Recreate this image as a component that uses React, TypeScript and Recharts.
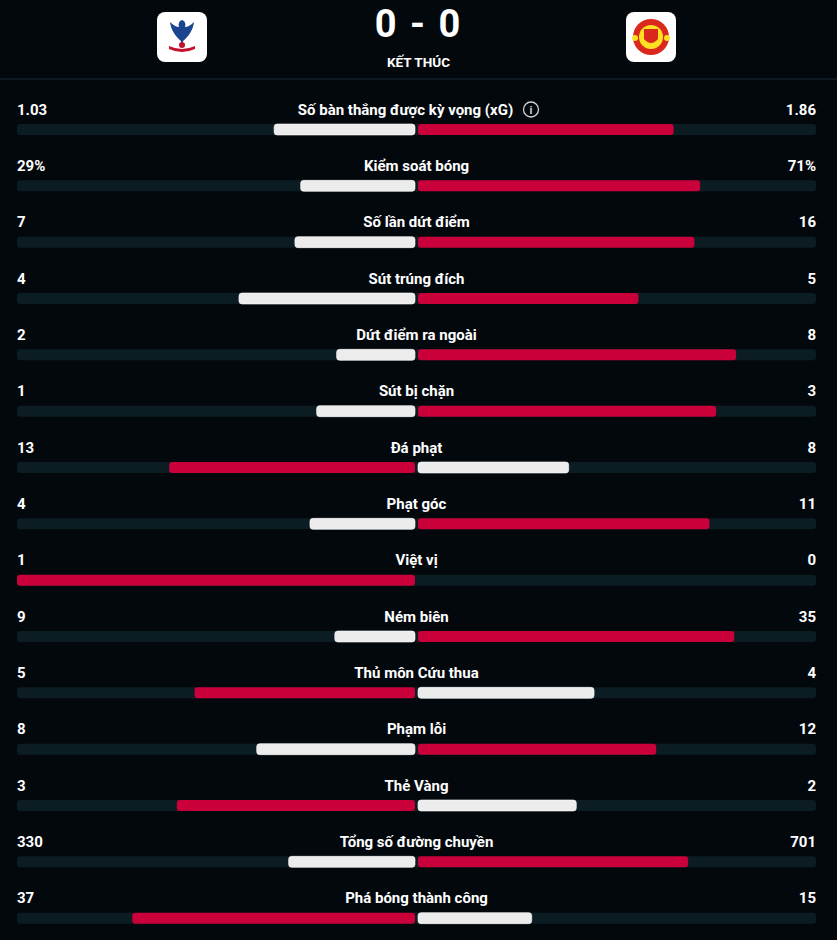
import React from 'react';
import { BarChart, Bar, XAxis, YAxis, Cell, LabelList } from 'recharts';

const labels = [
  'Số bàn thắng được kỳ vọng (xG)',
  'Kiểm soát bóng',
  'Số lần dứt điểm',
  'Sút trúng đích',
  'Dứt điểm ra ngoài',
  'Sút bị chặn',
  'Đá phạt',
  'Phạt góc',
  'Việt vị',
  'Ném biên',
  'Thủ môn Cứu thua',
  'Phạm lỗi',
  'Thẻ Vàng',
  'Tổng số đường chuyền',
  'Phá bóng thành công',
];
const homeValues = [1.03, 29, 7, 4, 2, 1, 13, 4, 1, 9, 5, 8, 3, 330, 37];
const awayValues = [1.86, 71, 16, 5, 8, 3, 8, 11, 0, 35, 4, 12, 2, 701, 15];
const suffixes = ['', '%', '', '', '', '', '', '', '', '', '', '', '', '', ''];

const BG = '#03080d';
const TRACK = '#0c1c23';
const RED = '#c9003a';
const WHITE = '#ececec';
const FONT = 'Roboto, "Noto Sans", sans-serif';

const LEFT = 17;
const RIGHT = 816;
const CENTER = (LEFT + RIGHT) / 2;

const data = labels.map((label, i) => {
  const total = homeValues[i] + awayValues[i];
  return {
    label,
    left: -homeValues[i] / total,
    right: awayValues[i] / total,
    homeWins: homeValues[i] > awayValues[i],
  };
});

const fmt = (v: number, i: number) => `${v}${suffixes[i]}`;

// texts above each bar: home value, stat name, away value
const RowText = (props: any) => {
  const { y, height, index } = props;
  const i = index;
  const ty = y + height / 2 - 15;
  const style = { fill: '#ffffff', fontSize: 15, fontWeight: 700, fontFamily: FONT };
  const isXg = i === 0;
  return (
    <g>
      <text x={LEFT} y={ty} textAnchor="start" style={style}>
        {fmt(homeValues[i], i)}
      </text>
      <text x={isXg ? CENTER - 11 : CENTER} y={ty} textAnchor="middle" style={style}>
        {labels[i]}
      </text>
      {isXg && (
        <g>
          <circle cx={531} cy={ty - 5} r={7.5} fill="none" stroke="#cfd3d6" strokeWidth={1.3} />
          <text x={531} y={ty - 1} textAnchor="middle" style={{ fill: '#cfd3d6', fontSize: 11, fontWeight: 700, fontFamily: FONT }}>
            i
          </text>
        </g>
      )}
      <text x={RIGHT} y={ty} textAnchor="end" style={style}>
        {fmt(awayValues[i], i)}
      </text>
    </g>
  );
};

const HalfBar = (props: any) => {
  const { x, y, width, height, fill, side } = props;
  if (!width) return null;
  let x0 = Math.min(x, x + width);
  let w = Math.abs(width);
  if (side === 'left') {
    w -= 1.5;
  } else {
    x0 += 1.5;
    w -= 1.5;
  }
  if (w <= 0) return null;
  return (
    <rect
      x={x0}
      y={y}
      width={w}
      height={height}
      rx={3}
      ry={3}
      fill={fill}
      stroke={fill === WHITE ? '#ffffff' : 'none'}
      strokeWidth={0.6}
    />
  );
};

const CrystalPalace = () => (
  <svg width={50} height={50} viewBox="0 0 50 50">
    <rect x={0} y={0} width={50} height={50} rx={8} fill="#ffffff" />
    <path d="M25 30 C18 24 14 18 13 10 C17 14 20 15 22 15 C21 12 22 9 25 8 C28 9 29 12 28 15 C30 15 33 14 37 10 C36 18 32 24 25 30 Z" fill="#1b458f" />
    <rect x={24} y={26} width={2} height={8} fill="#1b458f" />
    <path d="M12 34 Q25 40 38 34 L38 37 Q25 43 12 37 Z" fill="#c4122e" />
    <circle cx={25} cy={33} r={3} fill="#c4122e" />
  </svg>
);

const ManUtd = () => (
  <svg width={50} height={50} viewBox="0 0 50 50">
    <rect x={0} y={0} width={50} height={50} rx={8} fill="#ffffff" />
    <circle cx={25} cy={25} r={18} fill="#da291c" />
    <circle cx={25} cy={25} r={12} fill="#fbe122" />
    <path d="M18 17 L32 17 L32 27 Q25 35 18 27 Z" fill="#da291c" />
    <circle cx={9} cy={26} r={3} fill="#fbe122" />
    <circle cx={41} cy={26} r={3} fill="#fbe122" />
  </svg>
);

export default function App() {
  return (
    <div
      style={{
        position: 'fixed',
        left: 0,
        top: 0,
        width: 837,
        height: 940,
        background: BG,
        overflow: 'hidden',
        fontFamily: FONT,
      }}
    >
      <div style={{ position: 'absolute', left: 157, top: 12 }}>
        <CrystalPalace />
      </div>
      <div style={{ position: 'absolute', left: 626, top: 12 }}>
        <ManUtd />
      </div>
      <div
        style={{
          position: 'absolute',
          left: 0,
          width: 837,
          top: 2,
          textAlign: 'center',
          color: '#ffffff',
          fontSize: 38,
          fontWeight: 700,
          letterSpacing: 2,
          lineHeight: '44px',
        }}
      >
        0 - 0
      </div>
      <div
        style={{
          position: 'absolute',
          left: 0,
          width: 837,
          top: 54,
          textAlign: 'center',
          color: '#ffffff',
          fontSize: 13.5,
          fontWeight: 700,
          lineHeight: '16px',
        }}
      >
        KẾT THÚC
      </div>
      <div style={{ position: 'absolute', left: 0, top: 78, width: 837, height: 2, background: '#0d1a21' }} />
      <div style={{ position: 'absolute', left: 0, top: 0 }}>
        <BarChart
          width={837}
          height={960}
          data={data}
          layout="vertical"
          stackOffset="sign"
          barSize={11}
          margin={{ top: 101, right: 837 - RIGHT, bottom: 14, left: LEFT }}
        >
          <XAxis type="number" domain={[-1, 1]} hide />
          <YAxis type="category" dataKey="label" hide />
          <Bar
            dataKey="left"
            stackId="a"
            isAnimationActive={false}
            background={{ fill: TRACK, radius: 3 } as any}
            shape={(p: any) => <HalfBar {...p} side="left" />}
          >
            {data.map((d, i) => (
              <Cell key={i} fill={d.homeWins ? RED : WHITE} />
            ))}
            <LabelList dataKey="left" content={(p: any) => <RowText {...p} />} />
          </Bar>
          <Bar
            dataKey="right"
            stackId="a"
            isAnimationActive={false}
            shape={(p: any) => <HalfBar {...p} side="right" />}
          >
            {data.map((d, i) => (
              <Cell key={i} fill={d.homeWins ? WHITE : RED} />
            ))}
          </Bar>
        </BarChart>
      </div>
    </div>
  );
}
